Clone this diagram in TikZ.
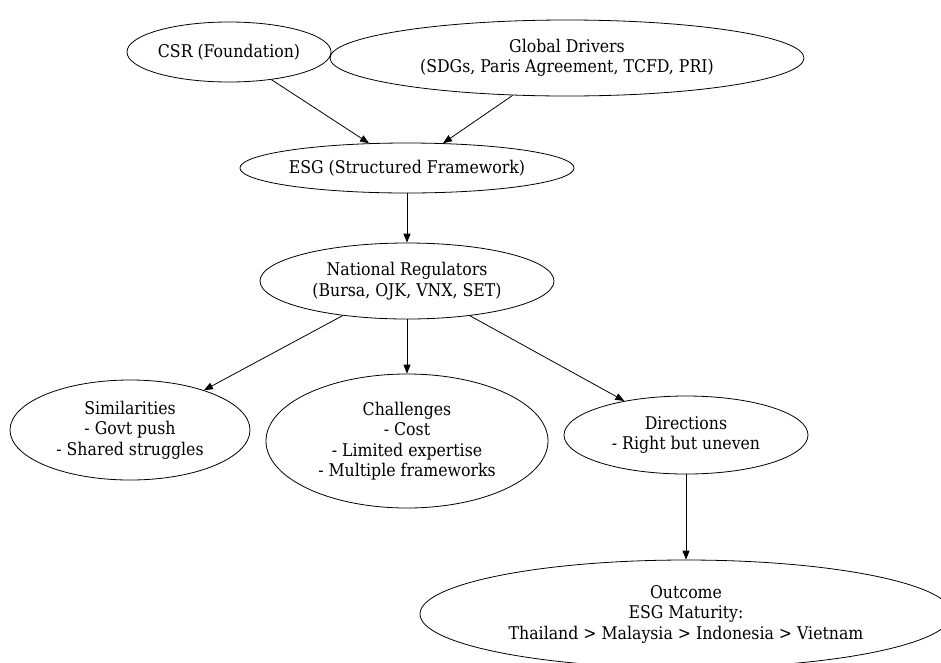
\documentclass[tikz,border=0pt]{standalone}
\usepackage{fontspec}
\setmainfont{DejaVu Serif Condensed}
\usetikzlibrary{shapes.geometric,arrows.meta}
\begin{document}
\begin{tikzpicture}[x=1pt,y=-1pt,
    conc/.style={draw,ellipse,align=center,inner sep=0pt,line width=0.8pt,
      font=\fontsize{17.5}{20.5}\selectfont}]
      \useasboundingbox (0,0) rectangle (941,662);
      \def \Nodes{
        csr/229/52/204/60/{CSR (Foundation)},
        drivers/567/58/474/76/{Global Drivers\\(SDGs, Paris Agreement, TCFD, PRI)},
        esg/407/168/334/50/{ESG (Structured Framework)},
        reg/407/281/294/76/{National Regulators\\(Bursa, OJK, VNX, SET)},
        sim/130/430/240/100/{Similarities\\- Govt push\\- Shared struggles},
        chal/407/441/282/134/{Challenges\\- Cost\\- Limited expertise\\- Multiple frameworks},
        dir/686/435/244/78/{Directions\\- Right but uneven},
        out/686/614/532/108/{Outcome\\ESG Maturity:\\Thailand > Malaysia > Indonesia > Vietnam}}
      \def \Edges{
        csr/esg,
        drivers/esg,
        esg/reg,
        reg/sim,
        reg/chal,
        reg/dir,
        dir/out}
      \foreach \id / \x / \y / \w / \h / \txt in \Nodes{
        \node[conc,minimum width=\w pt,minimum height=\h pt] (\id) at (\x, \y) {\txt};
      }
      \foreach \x / \y in \Edges{
        \path[draw,-{Triangle[length=9pt,width=7pt]},line width=0.8pt] (\x) -- (\y);
      }
    \end{tikzpicture}
\end{document}
